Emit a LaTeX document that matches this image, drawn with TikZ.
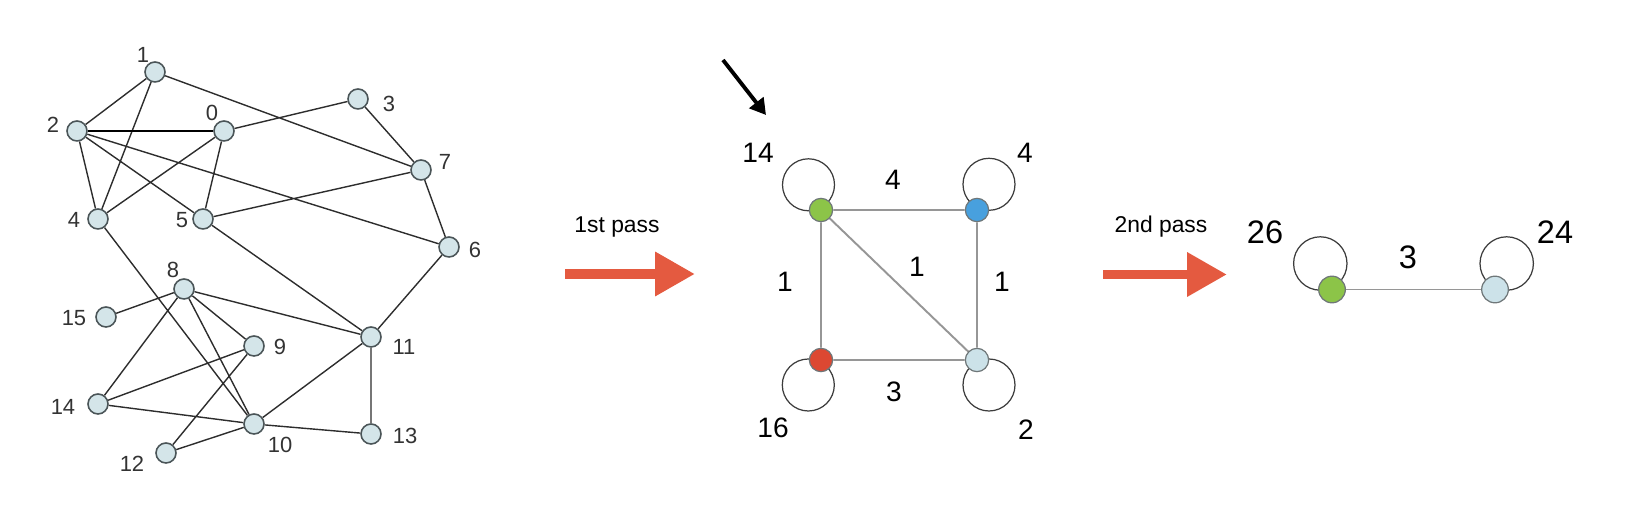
\documentclass[tikz,border=0pt]{standalone}
\usepackage{fontspec}
\setmainfont{Liberation Sans}
\usetikzlibrary{positioning,arrows.meta,backgrounds}
\definecolor{vxfill}{RGB}{212,229,233}
\definecolor{vxline}{RGB}{75,85,88}
\definecolor{edgedark}{RGB}{45,45,45}
\definecolor{edgegray}{RGB}{150,150,150}
\definecolor{loopgray}{RGB}{60,60,60}
\definecolor{cgreen}{RGB}{140,196,72}
\definecolor{cblue}{RGB}{72,160,222}
\definecolor{cred}{RGB}{220,72,50}
\definecolor{clight}{RGB}{204,226,233}
\definecolor{passorange}{RGB}{228,90,64}
\tikzset{
  vx/.style={circle, draw=vxline, line width=0.9pt, fill=vxfill, minimum size=0.4cm, inner sep=0pt},
  cvx/.style={circle, draw=vxline!80, line width=0.7pt, minimum size=0.466cm, inner sep=0pt},
  bigvx/.style={cvx, minimum size=0.533cm},
  gedge/.style={draw=edgedark, line width=0.8pt},
  wedge/.style={draw=edgegray, line width=1.1pt},
  selfloop/.style={draw=loopgray, line width=0.7pt},
  vlabel/.style={font=\fontsize{12.5}{14}\selectfont, text=black!80, inner sep=0pt},
  wlabel/.style={font=\fontsize{16}{18}\selectfont, inner sep=0pt},
  biglabel/.style={font=\fontsize{18.5}{20}\selectfont, inner sep=0pt},
  passlabel/.style={font=\fontsize{13}{15}\selectfont, anchor=base, inner sep=0pt},
  passarrow/.style={draw=passorange, line width=5.67pt, -{Triangle[length=22.7pt, width=23.8pt, fill=passorange]}},
  pointer/.style={line width=2.2pt, -{Triangle[length=9pt, width=10pt]}}
}
\begin{document}
\begin{tikzpicture}[x=0.02cm, y=-0.02cm]
  \useasboundingbox (0,0) rectangle (1630,516);

  % original graph
  \node[vx] (v0) at (224,131) {};
  \node[vx] (v1) at (155,72) {};
  \node[vx] (v2) at (77,131) {};
  \node[vx] (v3) at (358,99) {};
  \node[vx] (v4) at (98,219) {};
  \node[vx] (v5) at (203,219) {};
  \node[vx] (v6) at (449,247) {};
  \node[vx] (v7) at (421,170) {};
  \node[vx] (v8) at (184,289) {};
  \node[vx] (v9) at (254,346) {};
  \node[vx] (v10) at (254,424) {};
  \node[vx] (v11) at (371,337) {};
  \node[vx] (v12) at (166,453) {};
  \node[vx] (v13) at (371,434) {};
  \node[vx] (v14) at (98,404) {};
  \node[vx] (v15) at (106,317) {};

  \node[vlabel] (t0) at (212,113) {0};
  \node[vlabel] (t1) at (143,55) {1};
  \node[vlabel] (t2) at (53,125) {2};
  \node[vlabel] (t3) at (389,104) {3};
  \node[vlabel] (t4) at (74,220) {4};
  \node[vlabel] (t5) at (182,220) {5};
  \node[vlabel] (t6) at (475,250) {6};
  \node[vlabel] (t7) at (445,162) {7};
  \node[vlabel] (t8) at (173,270) {8};
  \node[vlabel] (t9) at (280,347) {9};
  \node[vlabel] (t10) at (280,445) {10};
  \node[vlabel] (t11) at (404,347) {11};
  \node[vlabel] (t12) at (132,464) {12};
  \node[vlabel] (t13) at (405,436) {13};
  \node[vlabel] (t14) at (63,407) {14};
  \node[vlabel] (t15) at (74,318) {15};

  \begin{scope}[on background layer]
    \path[gedge] (v2) -- (v1) (v1) -- (v4) (v1) -- (v7)
      (v2) -- (v4) (v2) -- (v5) (v2) -- (v6) (v0) -- (v3) (v0) -- (v4)
      (v0) -- (v5) (v3) -- (v7) (v7) -- (v5) (v7) -- (v6) (v4) -- (v10)
      (v5) -- (v11) (v6) -- (v11) (v8) -- (v15) (v8) -- (v14) (v8) -- (v10)
      (v8) -- (v9) (v8) -- (v11) (v9) -- (v14) (v9) -- (v12) (v14) -- (v10)
      (v12) -- (v10) (v10) -- (v11) (v10) -- (v13) (v11) -- (v13);
    \draw[gedge, draw=black, line width=1.1pt] (v2) -- (v0);
  \end{scope}

  % first pass
  \coordinate (p1s) at (565,274);
  \coordinate (p1e) at (695,274);
  \draw[passarrow] (p1s) -- (p1e);
  \node[passlabel] (pass1) at (617,233) {1st pass};

  \node[cvx, fill=cgreen] (g) at (821,210) {};
  \node[cvx, fill=cblue] (b) at (977,210) {};
  \node[cvx, fill=cred] (r) at (821,360) {};
  \node[cvx, fill=clight] (c) at (977,360) {};
  \begin{scope}[on background layer]
    \path[wedge] (g) -- (b) (g) -- (r) (g) -- (c) (b) -- (c) (r) -- (c);
    \draw[selfloop] ([shift={(-12.5,-25.2)}]g.center) circle[radius=26];
    \draw[selfloop] ([shift={(12,-25.7)}]b.center) circle[radius=26];
    \draw[selfloop] ([shift={(-12.7,25)}]r.center) circle[radius=26];
    \draw[selfloop] ([shift={(12,25)}]c.center) circle[radius=26];
  \end{scope}
  \node[wlabel] (w14) at (758,153) {14};
  \node[wlabel] (w4) at (1025,153) {4};
  \node[wlabel] (w16) at (773,428) {16};
  \node[wlabel] (w2) at (1026,430) {2};
  \node[wlabel] (egb) at (893,180) {4};
  \node[wlabel] (egr) at (785,282) {1};
  \node[wlabel] (egc) at (917,267) {1};
  \node[wlabel] (ebc) at (1002,282) {1};
  \node[wlabel] (erc) at (894,392) {3};

  \coordinate (ptop) at (723,60);
  \coordinate (ptip) at (766,115);
  \draw[pointer] (ptop) -- (ptip);

  % second pass
  \coordinate (p2s) at (1103,274.5);
  \coordinate (p2e) at (1227,274.5);
  \draw[passarrow] (p2s) -- (p2e);
  \node[passlabel] (pass2) at (1161,233) {2nd pass};

  \node[bigvx, fill=cgreen] (G) at (1332,289.5) {};
  \node[bigvx, fill=clight] (C) at (1495,289.5) {};
  \begin{scope}[on background layer]
    \path[wedge] (G) -- (C);
    \draw[selfloop] ([shift={(-11.7,-26)}]G.center) circle[radius=26.7];
    \draw[selfloop] ([shift={(11.7,-26)}]C.center) circle[radius=26.7];
  \end{scope}
  \node[biglabel] (W26) at (1265,232) {26};
  \node[biglabel] (W24) at (1555,232) {24};
  \node[biglabel] (EGC) at (1408,257) {3};
\end{tikzpicture}
\end{document}
